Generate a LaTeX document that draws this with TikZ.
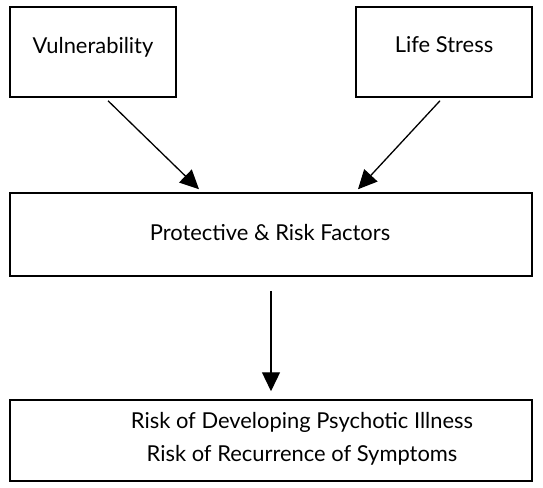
\documentclass[tikz,border=0pt]{standalone}
\usepackage{fontspec}
\setmainfont{Lato}
\usetikzlibrary{arrows.meta}
\begin{document}
\begin{tikzpicture}[x=1bp,y=-1bp,
  box/.style={draw, line width=1.5bp, inner sep=0pt},
  txt/.style={font=\fontsize{22}{33}\selectfont, align=center, inner sep=0pt},
  arr/.style={line width=1.3bp, -{Triangle[length=19bp,width=18bp]}}]
\useasboundingbox (0,0) rectangle (543,488);
% boxes
\node[box, minimum width=166bp, minimum height=90bp] (vul) at (93,52) {};
\node[box, minimum width=176bp, minimum height=90bp] (life) at (444,52) {};
\node[box, minimum width=522bp, minimum height=83bp] (prot) at (271,234.5) {};
\node[box, minimum width=522bp, minimum height=81bp] (risk) at (271,440.5) {};
% texts
\node[txt] (tvul) at (93,47) {Vulnerability};
\node[txt] (tlife) at (444,45) {Life Stress};
\node[txt] (tprot) at (270,233) {Protective \& Risk Factors};
\node[txt] (trisk) at (302,439) {Risk of Developing Psychotic Illness\\Risk of Recurrence of Symptoms};
% arrows
\draw[arr] ([xshift=15bp,yshift=-3bp]vul.south) -- ([xshift=-72bp,yshift=3bp]prot.north);
\draw[arr] ([xshift=-4bp,yshift=-3bp]life.south) -- ([xshift=87bp,yshift=3bp]prot.north);
\draw[arr] ([yshift=-14bp]prot.south) -- ([yshift=8bp]risk.north);
\end{tikzpicture}
\end{document}
